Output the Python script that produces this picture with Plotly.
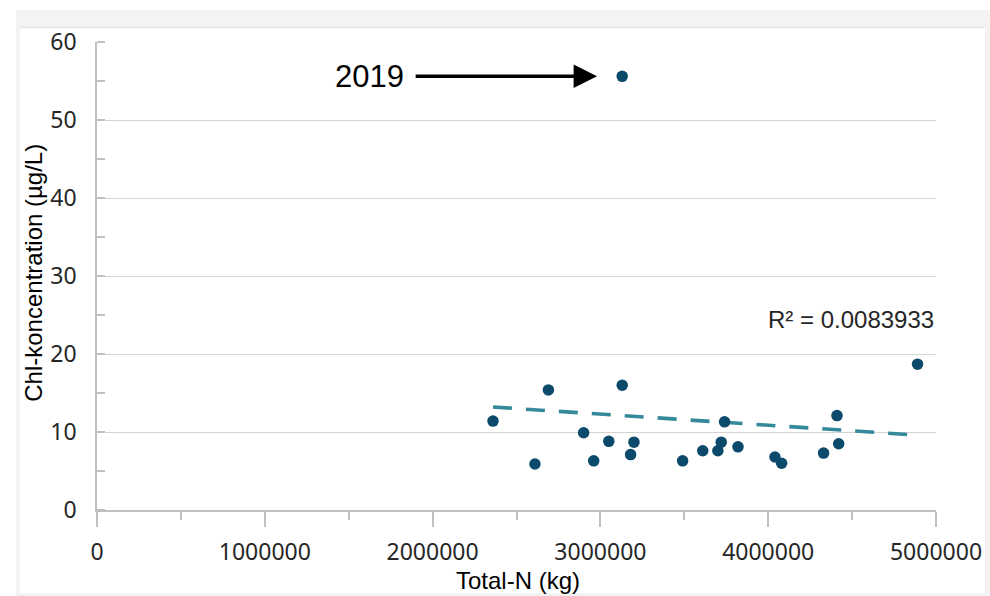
import numpy as np
import plotly.graph_objects as go

# Annual total nitrogen load (kg) and chlorophyll concentration (µg/L)
total_n = [2360000, 2610000, 2690000, 2900000, 2960000, 3050000, 3130000, 3130000,
           3180000, 3200000, 3490000, 3610000, 3700000, 3720000, 3740000, 3820000,
           4040000, 4080000, 4330000, 4410000, 4420000, 4890000]
chl = [11.4, 5.9, 15.4, 9.9, 6.3, 8.8, 16.0, 55.6,
       7.1, 8.7, 6.3, 7.6, 7.6, 8.7, 11.3, 8.1,
       6.8, 6.0, 7.3, 12.1, 8.5, 18.7]
outlier_index = 7            # the 2019 observation
outlier_label = "2019"
r2_label = "R² = 0.0083933"

x_ticks = [0, 1000000, 2000000, 3000000, 4000000, 5000000]
y_ticks = [0, 10, 20, 30, 40, 50, 60]

DOT = "#0c4a6b"
TREND = "#35899a"
AXIS = "#bfbfbf"
GRID = "#d4d4d4"
TICKFONT = dict(family="Noto Sans", size=23, color="#262626")

# Least-squares linear trend over all observations
xs = np.array(total_n, dtype=float)
ys = np.array(chl, dtype=float)
slope, intercept = np.polyfit(xs, ys, 1)
trend_x = np.array([xs.min(), xs.max()])
trend_y = slope * trend_x + intercept

fig = go.Figure()
fig.add_trace(go.Scatter(
    x=trend_x, y=trend_y, mode="lines",
    line=dict(color=TREND, width=3.6, dash="19px,14px"),
    hoverinfo="skip", showlegend=False,
))
fig.add_trace(go.Scatter(
    x=total_n, y=chl, mode="markers",
    marker=dict(color=DOT, size=11.5, line=dict(width=0)),
    showlegend=False,
))

# Grey card behind the chart
fig.add_shape(type="rect", xref="paper", yref="paper",
              x0=-0.0965, x1=1.0644, y0=-0.1838, y1=1.0684,
              fillcolor="#f3f3f3", line=dict(width=0), layer="below")
fig.add_shape(type="rect", xref="paper", yref="paper",
              x0=-0.0918, x1=1.0584, y0=-0.1774, y1=1.0299,
              fillcolor="white", line=dict(width=0), layer="below")
fig.add_shape(type="line", xref="paper", yref="paper",
              x0=-0.0918, x1=1.0584, y0=1.0310, y1=1.0310,
              line=dict(color="#e6e6e6", width=1.5), layer="below")

ox, oy = total_n[outlier_index], chl[outlier_index]
fig.add_annotation(
    x=ox - 150000, y=oy, ax=ox - 1240000, ay=oy,
    xref="x", yref="y", axref="x", ayref="y",
    showarrow=True, arrowhead=2, arrowsize=1.3, arrowwidth=3.6,
    arrowcolor="black", text="",
)
fig.add_annotation(
    x=ox - 1290000, y=oy, xref="x", yref="y",
    text=outlier_label, showarrow=False, xanchor="right", yanchor="middle",
    font=dict(family="Liberation Sans", size=31, color="black"),
)
fig.add_annotation(
    x=0.8987, y=0.4081, xref="paper", yref="paper",
    text=r2_label, showarrow=False, xanchor="center", yanchor="middle",
    font=dict(family="Liberation Sans", size=24, color="#262626"),
)
# Axis titles
fig.add_annotation(
    x=-0.0756, y=0.506, xref="paper", yref="paper",
    text="Chl-koncentration (µg/L)", textangle=-90, showarrow=False,
    xanchor="center", yanchor="middle",
    font=dict(family="Liberation Sans", size=24, color="black"),
)
fig.add_annotation(
    x=0.5018, y=-0.1496, xref="paper", yref="paper",
    text="Total-N (kg)", showarrow=False, xanchor="center", yanchor="middle",
    font=dict(family="Liberation Sans", size=24, color="black"),
)

fig.update_xaxes(
    range=[0, 5000000], tickvals=x_ticks, ticktext=[str(v) for v in x_ticks],
    showgrid=False, zeroline=False, automargin=False,
    showline=True, linecolor=AXIS, linewidth=1.5,
    ticks="outside", ticklen=15, tickwidth=1.5, tickcolor=AXIS,
    ticklabelstandoff=6,
    minor=dict(dtick=500000, ticks="outside", ticklen=8, tickwidth=1.5,
               tickcolor=AXIS, showgrid=False),
    tickfont=TICKFONT,
)
fig.update_yaxes(
    range=[0, 60], tickvals=y_ticks,
    showgrid=True, gridcolor=GRID, gridwidth=1.3, zeroline=False,
    automargin=False,
    showline=True, linecolor=AXIS, linewidth=1.5,
    ticks="", ticklabelstandoff=14,
    minor=dict(dtick=5, ticks="inside", ticklen=8, tickwidth=1.5,
               tickcolor=AXIS, showgrid=False),
    tickfont=TICKFONT,
)
fig.update_layout(
    width=990, height=596,
    margin=dict(l=97, r=54, t=42, b=86),
    paper_bgcolor="white", plot_bgcolor="rgba(0,0,0,0)",
    showlegend=False,
)

fig.write_html("out.html")
